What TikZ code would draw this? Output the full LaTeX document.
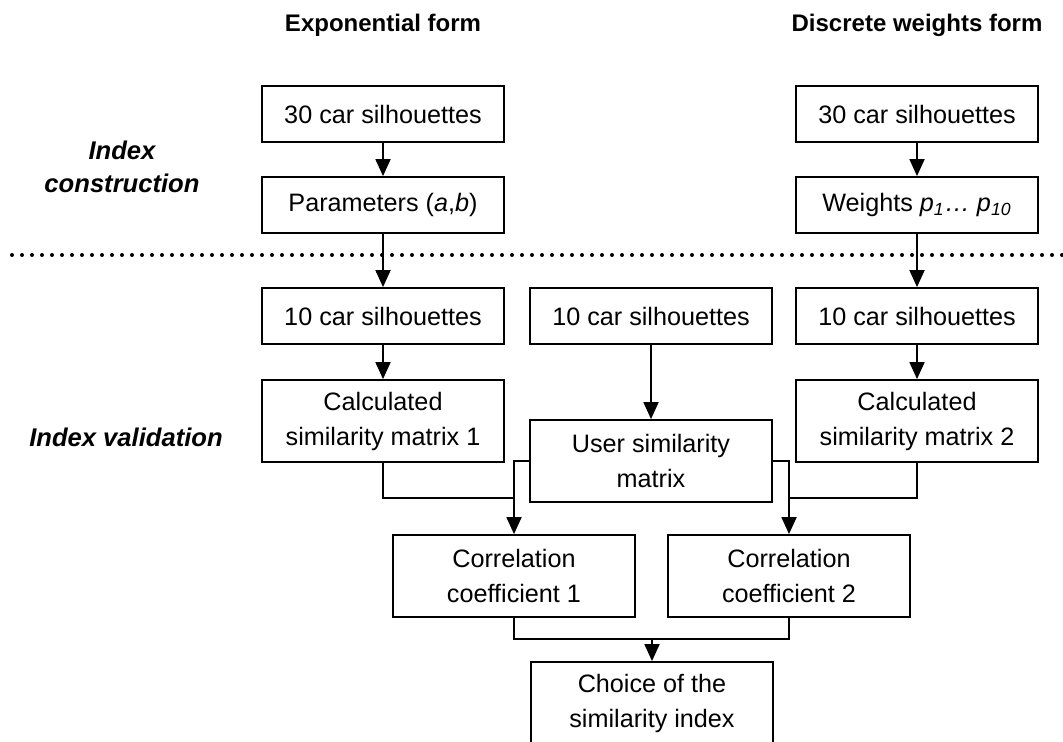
\documentclass[tikz,border=0pt]{standalone}
\usepackage{fontspec}
\setmainfont{Liberation Sans}
\usetikzlibrary{arrows.meta}
\begin{document}
\begin{tikzpicture}[x=0.5pt,y=0.5pt,line width=0.9pt,>={Triangle[length=8.5pt,width=7.5pt]},
  font=\fontsize{12.6}{17.5}\selectfont,
  box/.style={draw,minimum width=121pt,minimum height=28pt,align=center,inner sep=0pt},
  tall/.style={box,minimum height=41pt},
  head/.style={font=\fontsize{12}{16}\selectfont\bfseries},
  side/.style={font=\fontsize{12.8}{16.5}\selectfont\bfseries\itshape,align=center}]
\useasboundingbox (0,0) rectangle (1063,-742);
% headings
\node[head] (hexp) at (383,-25) {Exponential form};
\node[head] (hdis) at (917,-25) {Discrete weights form};
\node[side] (lcon) at (122,-167) {Index\\construction};
\node[side] (lval) at (126,-437) {Index validation};
\draw[line width=2pt,line cap=round,dash pattern=on 0pt off 5pt] (12,-255) -- (1063,-255);
% exponential form
\node[box] (e30) at (383,-114) {30 car silhouettes};
\node[box] (epar) at (383,-205) {Parameters (\textit{a},\textit{b})};
\node[box] (e10) at (383,-316) {10 car silhouettes};
\node[tall] (ecalc) at (383,-421) {Calculated\\similarity matrix 1};
% user
\node[box] (u10) at (651,-316) {10 car silhouettes};
\node[tall] (umat) at (651,-461) {User similarity\\matrix};
% discrete weights form
\node[box] (d30) at (917,-114) {30 car silhouettes};
\node[box] (dw) at (917,-205) {Weights \textit{p\textsubscript{1}… p\textsubscript{10}}};
\node[box] (d10) at (917,-316) {10 car silhouettes};
\node[tall] (dcalc) at (917,-421) {Calculated\\similarity matrix 2};
% validation
\node[tall] (corr1) at (514,-576) {Correlation\\coefficient 1};
\node[tall] (corr2) at (789,-576) {Correlation\\coefficient 2};
\node[tall] (choice) at (652,-703) {Choice of the\\similarity index};
\coordinate (j1) at (514,-498);
\coordinate (j2) at (789,-498);
\coordinate (j3) at (652,-639);
\foreach \a/\b in {e30/epar,epar/e10,e10/ecalc,d30/dw,dw/d10,d10/dcalc,u10/umat}
  \draw[->] (\a) -- (\b);
\draw (ecalc.south) |- (j1);
\draw (dcalc.south) |- (j2);
\draw[->] (umat.west) -| (corr1.north);
\draw[->] (umat.east) -| (corr2.north);
\draw (corr1.south) |- (j3);
\draw (corr2.south) |- (j3);
\draw[->] (j3) -- (choice.north);
\end{tikzpicture}
\end{document}
